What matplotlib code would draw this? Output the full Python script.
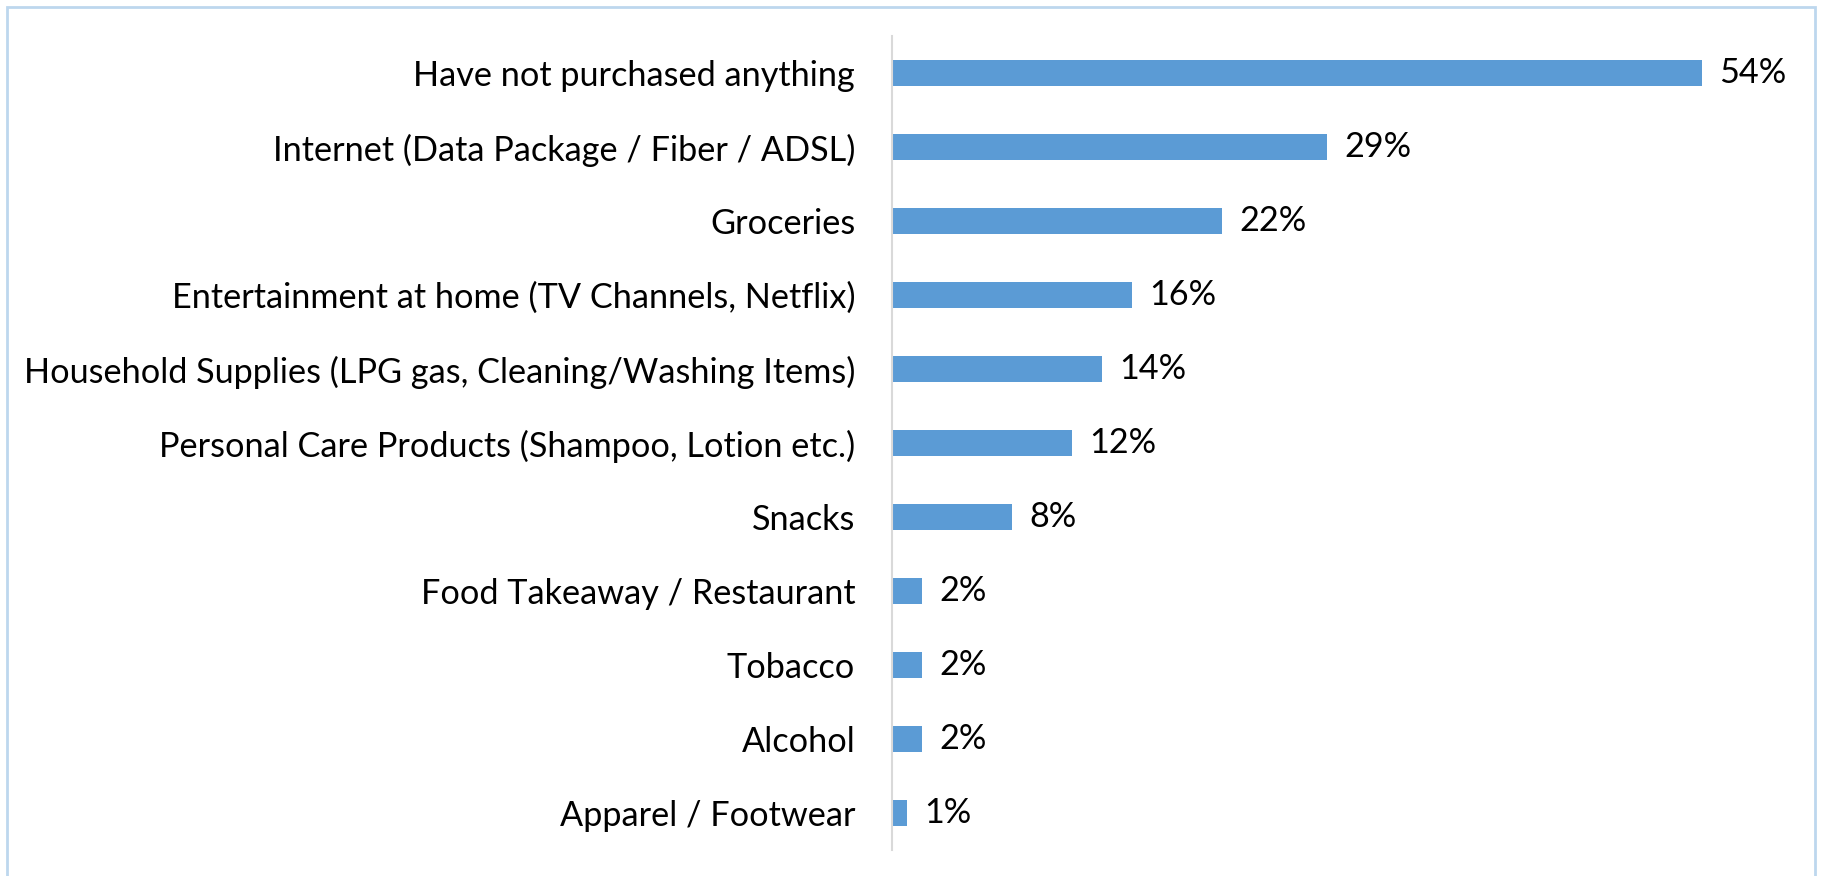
import matplotlib.pyplot as plt
from matplotlib.patches import Rectangle

# categories top to bottom, share of respondents (%)
categories = ["Have not purchased anything",
              "Internet (Data Package / Fiber / ADSL)",
              "Groceries",
              "Entertainment at home (TV Channels, Netflix)",
              "Household Supplies (LPG gas, Cleaning/Washing Items)",
              "Personal Care Products (Shampoo, Lotion etc.)",
              "Snacks",
              "Food Takeaway / Restaurant",
              "Tobacco",
              "Alcohol",
              "Apparel / Footwear"]
values = [54, 29, 22, 16, 14, 12, 8, 2, 2, 2, 1]
value_labels = ["54%", "29%", "22%", "16%", "14%", "12%", "8%",
                "2%", "2%", "2%", "1%"]

plt.rcParams['font.family'] = ['Lato', 'DejaVu Sans']
fs = 24.7

W, H = 1823, 876
fig = plt.figure(figsize=(W / 100, H / 100), dpi=100)
ax = fig.add_axes([892 / W, 26 / H, 900 / W, 814 / H])

ypos = list(range(len(categories)))
ax.barh(ypos, values, height=0.35, color='#5B9BD5')
ax.set_ylim(len(categories) - 0.5, -0.5)
ax.set_xlim(0, 60)

for y, v, lab in zip(ypos, values, value_labels):
    ax.annotate(lab, (v, y), xytext=(17, 0), textcoords='offset pixels',
                ha='left', va='center', fontsize=fs, color='black')

ax.set_yticks(ypos)
ax.set_yticklabels(categories, fontsize=fs)
ax.tick_params(axis='y', length=0, pad=26.5)
ax.set_xticks([])
for s in ['top', 'right', 'bottom']:
    ax.spines[s].set_visible(False)
ax.spines['left'].set_color('#d9d9d9')
ax.spines['left'].set_linewidth(1.5)

# light blue frame around the chart area
fig.patches.append(Rectangle((7 / W, -0.05), (1815 - 7) / W, 1.05 - 7 / H,
                             transform=fig.transFigure, fill=False,
                             edgecolor='#BDD7EE', linewidth=2))

fig.savefig('out.png', dpi=100)
